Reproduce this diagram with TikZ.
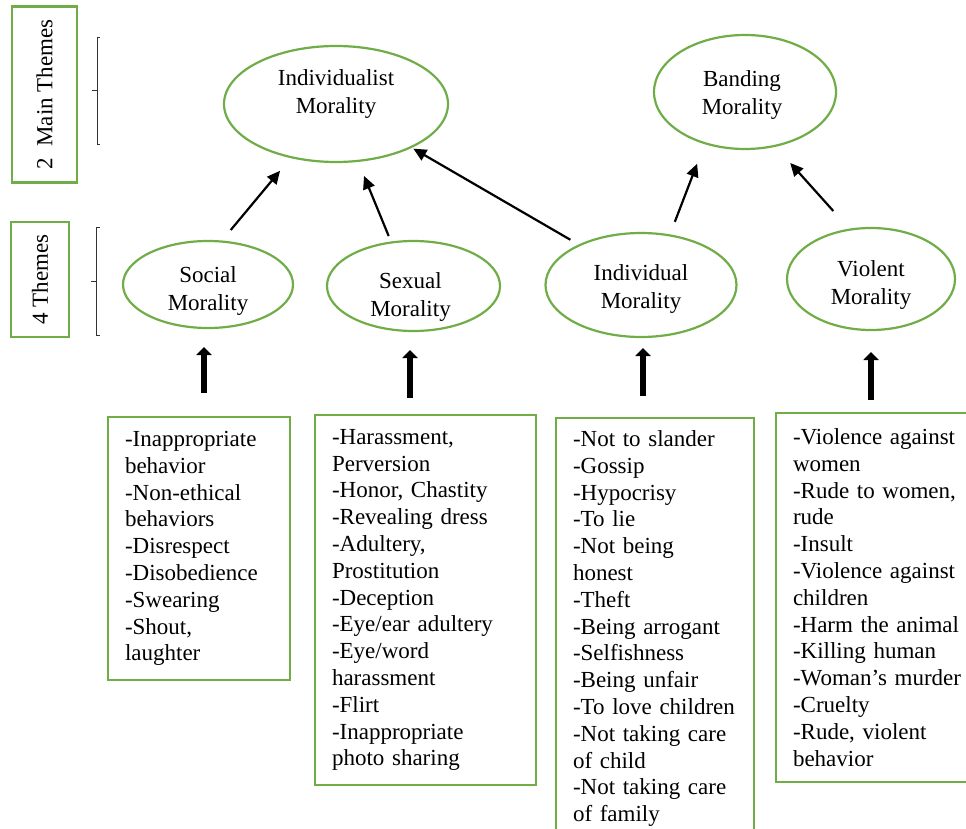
\documentclass[tikz,border=0pt]{standalone}
\usepackage{fontspec}
\setmainfont{Liberation Serif}
\usetikzlibrary{arrows.meta,shapes.geometric,calc}
\definecolor{ogreen}{RGB}{112,173,71}
\begin{document}
\begin{tikzpicture}[x=1pt,y=-1pt,
  every node/.style={font=\fontsize{23}{26.8}\selectfont, outer sep=0pt},
  oval/.style={ellipse, draw=ogreen, line width=2.2pt, inner sep=0pt},
  otext/.style={align=center, font=\fontsize{23}{28}\selectfont},
  listbox/.style={draw=ogreen, line width=2.2pt, anchor=north west, align=left, inner xsep=17pt, inner ysep=0pt},
  themebox/.style={draw=ogreen, line width=2.2pt, rotate=90, inner sep=0pt},
  link/.style={-{Triangle[length=13pt,width=12pt]}, line width=2.2pt},
  bigarrow/.style={-{Triangle[length=8pt,width=15pt]}, line width=6pt},
  brace/.style={line width=1pt, draw=black!80}
]
\useasboundingbox (0,0) rectangle (966,829);
\clip (0,0) rectangle (966,829);

% side labels
\node[themebox, minimum width=176pt, minimum height=65pt] (main) at (44.5,94.5) {2\ \ Main Themes};
\node[themebox, minimum width=115pt, minimum height=58pt] (four) at (40,279.5) {4 Themes};
\draw[brace] (100,38) -- (97,38) -- (97,145) -- (100,145) (97,91) -- (92,91);
\draw[brace] (100,227) -- (96,227) -- (96,335) -- (100,335) (96,281) -- (91,281);

% main themes
\node[oval, minimum width=224pt, minimum height=116pt,
  label={[otext, yshift=10pt]center:Individualist\\Morality}] (indiv) at (336,104) {};
\node[oval, minimum width=182pt, minimum height=114pt,
  label={[otext, xshift=-3pt, yshift=-3pt]center:Banding\\Morality}] (band) at (745,92) {};

% four themes
\node[oval, minimum width=170pt, minimum height=87pt,
  label={[otext, yshift=-7pt]center:Social\\Morality}] (social) at (208,284.5) {};
\node[oval, minimum width=173pt, minimum height=90pt,
  label={[otext, xshift=-3pt, yshift=-11pt]center:Sexual\\Morality}] (sexual) at (413.5,286) {};
\node[oval, minimum width=191pt, minimum height=104pt,
  label={[otext, yshift=-4pt]center:Individual\\Morality}] (individual) at (641,285) {};
\node[oval, minimum width=168pt, minimum height=102pt,
  label={[otext, yshift=-6pt]center:Violent\\Morality}] (violent) at (871,279) {};

% links between themes
\draw[link, shorten <=15pt, shorten >=17.7pt] (social.73) -- (indiv.230.6);
\draw[link, shorten <=7pt, shorten >=16.3pt] (sexual.117.8) -- (indiv.291.1);
\draw[link, shorten <=10.7pt, shorten >=3pt] (individual.147.4) -- (indiv.330.9);
\draw[link, shorten <=14.5pt, shorten >=22pt] (individual.60) -- (band.232.9);
\draw[link, shorten <=25pt, shorten >=23pt] (violent.113.6) -- (band.299.9);

% lists
\node[listbox, text width=148pt, minimum width=182pt, minimum height=263pt] (socbox) at (108,417)
  {-Inappropriate\\behavior\\-Non-ethical\\behaviors\\-Disrespect\\-Disobedience\\-Swearing\\-Shout,\\laughter};
\node[listbox, text width=187pt, minimum width=221pt, minimum height=370pt] (sexbox) at (315,415)
  {-Harassment,\\Perversion\\-Honor, Chastity\\-Revealing dress\\-Adultery,\\Prostitution\\-Deception\\-Eye/ear adultery\\-Eye/word\\harassment\\-Flirt\\-Inappropriate\\photo sharing};
\node[listbox, text width=164pt, minimum width=198pt, minimum height=421pt] (indbox) at (556,418)
  {-Not to slander\\-Gossip\\-Hypocrisy\\-To lie\\-Not being\\honest\\-Theft\\-Being arrogant\\-Selfishness\\-Being unfair\\-To love children\\-Not taking care\\of child\\-Not taking care\\of family};
\node[listbox, text width=175pt, minimum width=209pt, minimum height=369pt] (vbox) at (776,413)
  {-Violence against\\women\\-Rude to women,\\rude\\-Insult\\-Violence against\\children\\-Harm the animal\\-Killing human\\-Woman's murder\\-Cruelty\\-Rude, violent\\behavior};

% thick arrows from lists to themes
\draw[bigarrow] ([shift={(5,-24)}]socbox.north) -- ([shift={(-4,19)}]social.south);
\draw[bigarrow] ([shift={(-15.5,-17)}]sexbox.north) -- ([shift={(-3.5,19)}]sexual.south);
\draw[bigarrow] ([shift={(-12,-22)}]indbox.north) -- ([shift={(2,11)}]individual.south);
\draw[bigarrow] ([shift={(-9.5,-13)}]vbox.north) -- ([shift={(0,22)}]violent.south);
\end{tikzpicture}
\end{document}
